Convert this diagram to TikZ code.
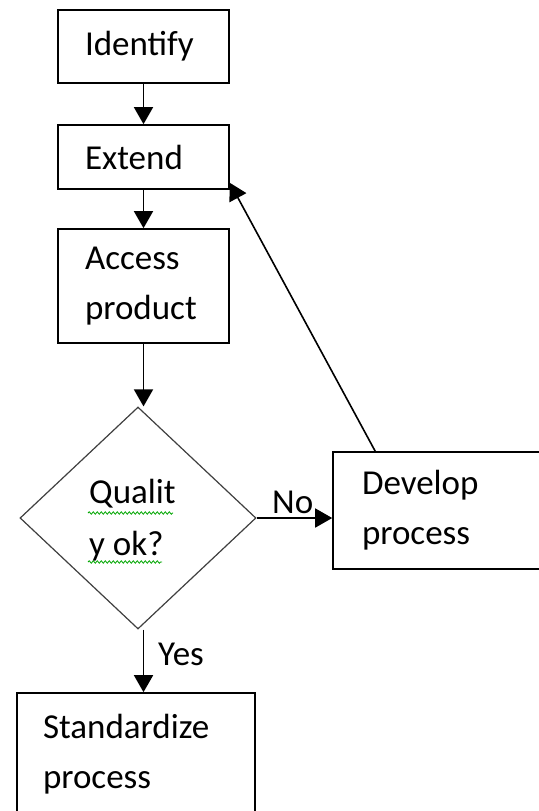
\documentclass[tikz,border=0pt]{standalone}
\usepackage{fontspec}
\setmainfont{Carlito}
\usetikzlibrary{arrows.meta,shapes.geometric,calc,decorations.pathmorphing}
\begin{document}
\begin{tikzpicture}[x=1pt,y=-1pt,
 box/.style={draw=black,line width=1.6pt,rectangle,inner ysep=0pt,align=left,font=\fontsize{35}{50}\selectfont},
 arr/.style={line width=1.6pt,-{Triangle[length=17pt,width=19pt]}},
 lbl/.style={font=\fontsize{35}{42}\selectfont,inner sep=0pt},
 squig/.style={draw=green!65!black,line width=0.8pt,decorate,decoration={snake,amplitude=1.2pt,segment length=4pt}}]
\useasboundingbox[fill=white] (0,0) rectangle (538,811);
\node[box,minimum width=171pt,minimum height=73pt,inner xsep=27pt,text width=117pt] (id) at (143.5,46.5) {Identify};
\node[box,minimum width=171pt,minimum height=64pt,inner xsep=27pt,text width=117pt] (ext) at (143.5,157) {Extend};
\node[box,minimum width=171pt,minimum height=114pt,inner xsep=27pt,text width=117pt] (acc) at (143.5,286) {Access\\product};
\node[diamond,draw=black!75,line width=1.2pt,minimum width=236pt,minimum height=222pt,inner sep=0pt] (q) at (138,518) {};
\node[lbl,anchor=west,align=left,font=\fontsize{35}{52}\selectfont] (qt) at (89,520) {Qualit\\y ok?};
\node[box,minimum width=207pt,minimum height=117pt,inner xsep=29pt,text width=149pt] (dev) at (436.5,510.5) {Develop\\process};
\node[box,minimum width=238pt,minimum height=122pt,inner xsep=26pt,text width=186pt] (std) at (136,754) {Standardize\\process};
\draw[arr] (id.south) -- (ext.north);
\draw[arr] (ext.south) -- (acc.north);
\draw[arr] (acc.south) -- (acc.south |- q.north);
\draw[arr] (q.east) -- (q.east -| dev.west);
\draw[arr] (q.south -| acc.south) -- (std.north -| acc.south);
\draw[arr] ($(dev.north west)+(43,0)$) -- ($(ext.south east)+(0,-7)$);
\node[lbl,anchor=base west] (no) at (272,513) {No};
\node[lbl,anchor=base west] (yes) at (158,665) {Yes};
\draw[squig] (88,513) -- (173,513);
\draw[squig] (88,562) -- (162,562);
\end{tikzpicture}
\end{document}
